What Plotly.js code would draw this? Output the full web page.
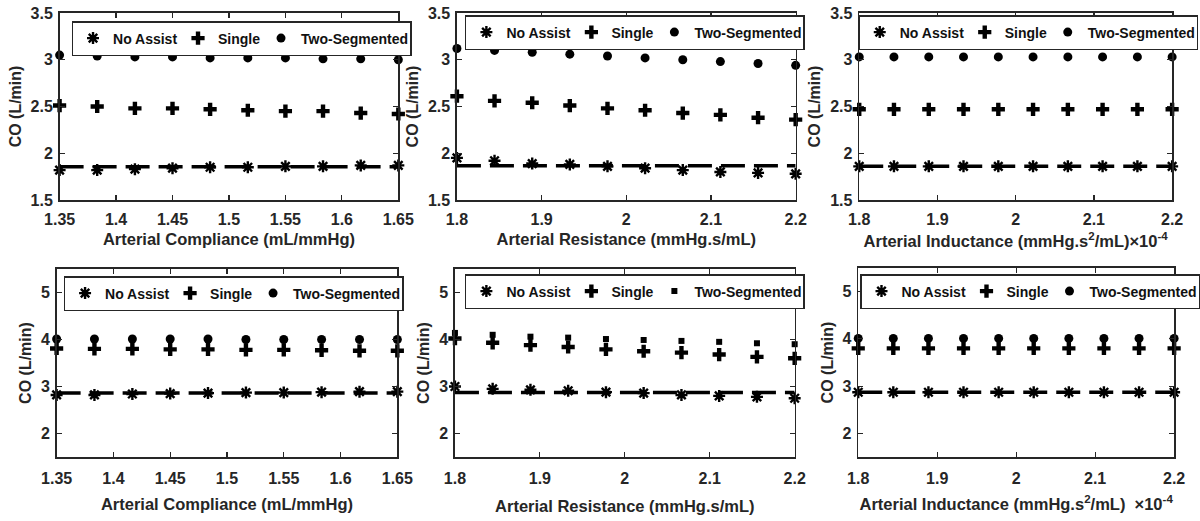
<!DOCTYPE html>
<html>
<head>
<meta charset="utf-8">
<script src="https://cdn.plot.ly/plotly-3.0.1.min.js"></script>
<style>html,body{margin:0;padding:0;background:#fff;}#chart{width:1200px;height:521px;}</style>
</head>
<body>
<div id="chart"></div>
<script>
// ---- Data ----
var seriesNames = ["No Assist", "Single", "Two-Segmented"];

var complianceX = [1.35, 1.3833, 1.4167, 1.45, 1.4833, 1.5167, 1.55, 1.5833, 1.6167, 1.65];
var resistanceX = [1.8, 1.8444, 1.8889, 1.9333, 1.9778, 2.0222, 2.0667, 2.1111, 2.1556, 2.2];
var inductanceX = [1.8, 1.8444, 1.8889, 1.9333, 1.9778, 2.0222, 2.0667, 2.1111, 2.1556, 2.2];

// Top row
var compNoAssistTop = [1.82, 1.82, 1.83, 1.84, 1.85, 1.85, 1.86, 1.86, 1.87, 1.87];
var compSingleTop   = [2.51, 2.50, 2.48, 2.48, 2.47, 2.46, 2.45, 2.45, 2.43, 2.42];
var compTwoSegTop   = [3.05, 3.04, 3.03, 3.03, 3.02, 3.02, 3.02, 3.01, 3.01, 3.00];

var resNoAssistTop = [1.95, 1.92, 1.89, 1.88, 1.86, 1.84, 1.82, 1.80, 1.79, 1.78];
var resSingleTop   = [2.61, 2.56, 2.54, 2.51, 2.48, 2.46, 2.43, 2.41, 2.38, 2.36];
var resTwoSegTop   = [3.12, 3.10, 3.08, 3.06, 3.04, 3.02, 3.00, 2.98, 2.96, 2.94];

var indNoAssistTop = [1.86, 1.86, 1.86, 1.86, 1.86, 1.86, 1.86, 1.86, 1.86, 1.86];
var indSingleTop   = [2.47, 2.47, 2.47, 2.47, 2.47, 2.47, 2.47, 2.47, 2.47, 2.47];
var indTwoSegTop   = [3.03, 3.03, 3.03, 3.03, 3.03, 3.03, 3.03, 3.03, 3.03, 3.03];

// Bottom row
var compNoAssistBot = [2.82, 2.82, 2.84, 2.85, 2.86, 2.87, 2.87, 2.88, 2.89, 2.89];
var compSingleBot   = [3.81, 3.80, 3.80, 3.79, 3.79, 3.78, 3.78, 3.77, 3.76, 3.76];
var compTwoSegBot   = [4.01, 4.01, 4.01, 4.01, 4.01, 4.00, 4.00, 4.00, 4.00, 4.00];

var resNoAssistBot = [3.00, 2.95, 2.93, 2.91, 2.88, 2.86, 2.82, 2.80, 2.78, 2.75];
var resSingleBot   = [4.02, 3.93, 3.88, 3.84, 3.79, 3.75, 3.72, 3.68, 3.63, 3.60];
var resTwoSegBot   = [4.14, 4.10, 4.06, 4.04, 4.01, 3.99, 3.97, 3.95, 3.92, 3.90];

var indNoAssistBot = [2.87, 2.87, 2.87, 2.87, 2.87, 2.87, 2.87, 2.87, 2.87, 2.87];
var indSingleBot   = [3.80, 3.80, 3.80, 3.80, 3.80, 3.80, 3.80, 3.80, 3.80, 3.80];
var indTwoSegBot   = [4.01, 4.01, 4.01, 4.01, 4.01, 4.01, 4.01, 4.01, 4.01, 4.01];

// Dashed baseline (No Assist reference level) per panel
var baselineCO = [1.855, 1.865, 1.86, 2.86, 2.87, 2.87];

var complianceTicks = [1.35, 1.4, 1.45, 1.5, 1.55, 1.6, 1.65];
var complianceTickText = ["1.35", "1.4", "1.45", "1.5", "1.55", "1.6", "1.65"];
var rlTicks = [1.8, 1.9, 2, 2.1, 2.2];
var rlTickText = ["1.8", "1.9", "2", "2.1", "2.2"];
var topYTicks = [1.5, 2, 2.5, 3, 3.5];
var topYTickText = ["1.5", "2", "2.5", "3", "3.5"];
var botYTicks = [2, 3, 4, 5];
var botYTickText = ["2", "3", "4", "5"];

var xTitles = [
  "Arterial Compliance (mL/mmHg)",
  "Arterial Resistance (mmHg.s/mL)",
  "Arterial Inductance (mmHg.s<sup>2</sup>/mL)\u00D710<sup>-4</sup>",
  "Arterial Compliance (mL/mmHg)",
  "Arterial Resistance (mmHg.s/mL)",
  "Arterial Inductance (mmHg.s<sup>2</sup>/mL)  \u00D710<sup>-4</sup>"
];
var xTitleStandoff = [6, 6, 8, 12, 14, 12];

// ---- Build ----
var FONT = "Liberation Sans, Arial, sans-serif";
var panels = [
  {x: complianceX, y: [compNoAssistTop, compSingleTop, compTwoSegTop], twoSym: "circle"},
  {x: resistanceX, y: [resNoAssistTop, resSingleTop, resTwoSegTop], twoSym: "circle"},
  {x: inductanceX, y: [indNoAssistTop, indSingleTop, indTwoSegTop], twoSym: "circle"},
  {x: complianceX, y: [compNoAssistBot, compSingleBot, compTwoSegBot], twoSym: "circle"},
  {x: resistanceX, y: [resNoAssistBot, resSingleBot, resTwoSegBot], twoSym: "square"},
  {x: inductanceX, y: [indNoAssistBot, indSingleBot, indTwoSegBot], twoSym: "circle"}
];

// pixel boxes [left, right, top, bottom]
var W = 1200, H = 521;
var boxes = [
  [60, 401, 13, 200], [460, 801, 13, 200], [865, 1180, 13, 200],
  [57, 400, 269, 457], [458, 800, 269, 457], [864, 1182, 268, 457]
];
var legendPos = [[72, 21], [468, 15], [864, 15], [64, 276], [468, 274], [866, 274]];
var legendWidths = [60, 38, 104];

var traces = [];
var layout = {
  width: W, height: H,
  margin: {l: 0, r: 0, t: 0, b: 0},
  paper_bgcolor: "#fff", plot_bgcolor: "#fff",
  font: {family: FONT, color: "#262626"},
  showlegend: true
};

panels.forEach(function (p, i) {
  var n = i + 1;
  var xa = n === 1 ? "x" : "x" + n;
  var ya = n === 1 ? "y" : "y" + n;
  var lg = n === 1 ? "legend" : "legend" + n;

  // dashed baseline
  traces.push({
    x: [p.x[0], p.x[p.x.length - 1]], y: [baselineCO[i], baselineCO[i]],
    xaxis: xa, yaxis: ya, mode: "lines", showlegend: false, hoverinfo: "skip",
    line: {color: "#000", width: 3.5, dash: "24px,9px"}, cliponaxis: false
  });

  var syms = ["asterisk-open", "cross", p.twoSym];
  var sizes = [10, 11, p.twoSym === "square" ? 6 : 9];
  for (var s = 0; s < 3; s++) {
    traces.push({
      x: p.x, y: p.y[s], xaxis: xa, yaxis: ya, legend: lg,
      name: seriesNames[s], mode: "markers", cliponaxis: false,
      legendwidth: legendWidths[s],
      marker: {
        symbol: syms[s], size: sizes[s], color: "#000",
        line: {color: "#000", width: s === 0 ? 2.4 : 0}
      }
    });
  }

  var b = boxes[i];
  var isTop = i < 3;
  var xkey = n === 1 ? "xaxis" : "xaxis" + n;
  var ykey = n === 1 ? "yaxis" : "yaxis" + n;
  var isComp = (i % 3) === 0;
  layout[xkey] = {
    domain: [b[0] / W, b[1] / W], anchor: ya,
    range: isComp ? [1.35, 1.65] : [1.8, 2.2],
    tickvals: isComp ? complianceTicks : rlTicks,
    ticktext: isComp ? complianceTickText : rlTickText,
    ticks: "inside", ticklen: 5, tickwidth: 1.2, tickcolor: "#262626",
    showline: true, linecolor: "#262626", linewidth: 1.6, mirror: "ticks",
    showgrid: false, zeroline: false,
    tickfont: {size: 16, weight: "bold", color: "#262626", family: FONT},
    ticklabelstandoff: isTop ? 4 : 6,
    title: {text: xTitles[i], font: {size: 16.5, weight: "bold", color: "#262626", family: FONT}, standoff: xTitleStandoff[i]}
  };
  layout[ykey] = {
    domain: [1 - b[3] / H, 1 - b[2] / H], anchor: xa,
    range: isTop ? [1.5, 3.5] : [1.5, 5.5],
    tickvals: isTop ? topYTicks : botYTicks,
    ticktext: isTop ? topYTickText : botYTickText,
    ticks: "inside", ticklen: 5, tickwidth: 1.2, tickcolor: "#262626",
    showline: true, linecolor: "#262626", linewidth: 1.6, mirror: "ticks",
    showgrid: false, zeroline: false,
    tickfont: {size: 16, weight: "bold", color: "#262626", family: FONT},
    ticklabelstandoff: 2,
    title: {text: "CO (L/min)", font: {size: 16, weight: "bold", color: "#262626", family: FONT}, standoff: 5}
  };

  layout[lg] = {
    x: legendPos[i][0] / W, y: 1 - legendPos[i][1] / H,
    xanchor: "left", yanchor: "top", xref: "paper", yref: "paper",
    orientation: "h", bgcolor: "#fff", bordercolor: "#262626", borderwidth: 1.5,
    font: {size: 14, weight: "bold", color: "#111", family: FONT},
    itemwidth: 30, tracegroupgap: 0
  };
});

Plotly.newPlot("chart", traces, layout, {displayModeBar: false, staticPlot: true});
</script>
</body>
</html>
